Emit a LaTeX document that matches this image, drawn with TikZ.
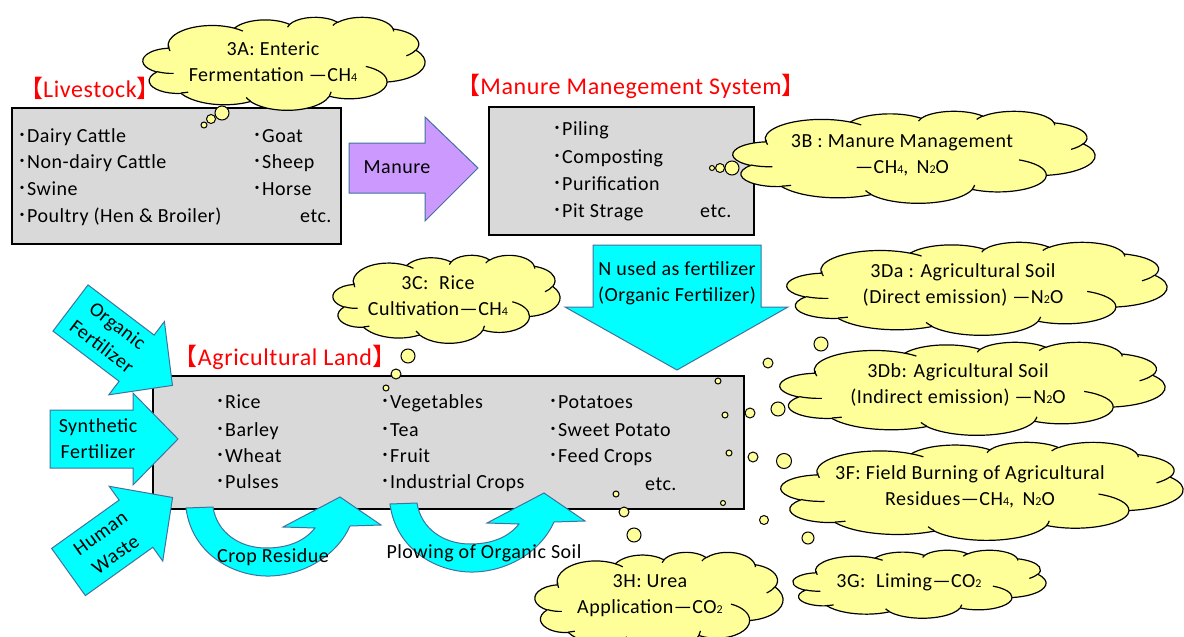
\documentclass[tikz,border=0pt]{standalone}
\usepackage{fontspec}
\setmainfont{Carlito}[LetterSpace=2.5]
\newfontfamily\cjkfont{Noto Sans CJK JP}
\definecolor{boxgray}{HTML}{D9D9D9}
\definecolor{cloudyellow}{HTML}{FFFF99}
\definecolor{arrcyan}{HTML}{00FFFF}
\definecolor{arrpurple}{HTML}{CC99FF}
\definecolor{arredge}{HTML}{41719C}
\definecolor{titlered}{HTML}{FF0000}
\newcommand\lsub[1]{{\fontsize{12}{12}\selectfont #1}}
\newcommand\bul{{\cjkfont ･}}
\newcommand\lbr{{\cjkfont 【}}
\newcommand\rbr{{\cjkfont 】}}
\tikzset{
  declare function={visang(\a,\w,\h)=atan2(sin(\a)*\w, cos(\a)*\h);},
  graybox/.style={draw=black, line width=1.3pt, fill=boxgray, inner sep=0, rectangle},
  titletext/.style={text=titlered, font=\fontsize{24}{30}\selectfont, inner sep=0},
  itemtext/.style={anchor=west, inner sep=0, font=\fontsize{20}{24}\selectfont, text height=14pt, text depth=4pt},
  cloudtext/.style={align=center, inner sep=0, font=\fontsize{20}{26}\selectfont},
  cloudline/.style={draw=black, line width=1.2pt, line join=round},
  bubble/.style={circle, draw=black, line width=1pt, fill=cloudyellow, inner sep=0},
  bigarrow/.style={draw=arredge, line width=1pt},
}
% cloud outline (PowerPoint cloud geometry): left x, top y, width, height
\newcommand\pptcloud[4]{%
  \pgfmathsetmacro\csx{#3/43.2}%
  \pgfmathsetmacro\csy{#4/43.2}%
  \filldraw[cloudline, fill=cloudyellow] ({#1+3.900*\csx},{#2+14.370*\csy})
    \foreach \w/\h/\s/\d in {6.753/9.190/-190.4875/123.7805, 5.333/7.267/-144.1024/89.9452,
       4.365/5.945/-145.8079/99.7230, 4.857/6.595/-130.9861/117.2417,
       5.333/7.273/-78.7089/109.0269, 6.775/9.220/-46.2673/130.2690,
       5.785/7.867/0.6250/114.0333, 6.752/9.215/22.4516/115.1726,
       7.720/10.543/66.2426/75.7110, 4.360/5.918/-274.9421/146.7356,
       4.345/5.945/-246.8285/152.5189}{
      arc[start angle={-visang(\s,\w,\h)}, delta angle={-mod(visang(\s+\d,\w,\h)-visang(\s,\w,\h)+720,360)}, x radius={\w*\csx*1pt}, y radius={\h*\csy*1pt}]
    } -- cycle;
  \foreach \px/\py/\w/\h/\s/\d in {4.693/26.177/4.345/5.945/86.7420/26.4295,
       6.928/34.899/4.360/5.918/73.6105/11.4475,
       16.478/39.090/6.752/9.215/137.6242/14.0811,
       28.827/34.751/6.752/9.215/6.4533/15.9984,
       34.129/22.954/5.785/7.867/-70.2924/70.9174,
       41.798/15.354/5.333/7.273/30.3180/27.7515,
       38.324/5.426/4.857/6.595/-13.7443/14.8589,
       29.078/3.952/4.857/6.595/-149.1815/18.1954,
       22.141/4.720/4.365/5.945/-163.4943/17.6864,
       14.000/5.192/6.753/9.190/-66.7070/12.3194,
       4.127/15.789/6.753/9.190/162.0352/19.5067}{
    \draw[cloudline] ({#1+\px*\csx},{#2+\py*\csy})
      arc[start angle={-visang(\s,\w,\h)}, delta angle={-mod(visang(\s+\d,\w,\h)-visang(\s,\w,\h)+720,360)}, x radius={\w*\csx*1pt}, y radius={\h*\csy*1pt}];
  }%
}
\begin{document}
\begin{tikzpicture}[x=1pt,y=-1pt]
\useasboundingbox (0,0) rectangle (1184,637);
\fill[white] (0,0) rectangle (1184,637);

% ---------- boxes ----------
\node[graybox, minimum width=329pt, minimum height=136pt] (livebox) at (176.5,176) {};
\node[graybox, minimum width=265pt, minimum height=128pt] (manbox) at (621.5,171) {};
\node[graybox, minimum width=591pt, minimum height=133pt] (agribox) at (448.5,442.5) {};

% ---------- titles ----------
\node[titletext] (livetitle) at (90,88) {\lbr Livestock\rbr};
\node[titletext] (mantitle) at (631,86) {\lbr Manure Manegement System\rbr};
\node[titletext] (agrititle) at (285,357) {\lbr Agricultural Land\rbr};

% ---------- livestock items ----------
\node[itemtext] (l1) at (17,137) {\bul Dairy Cattle};
\node[itemtext] (l2) at (17,163) {\bul Non-dairy Cattle};
\node[itemtext] (l3) at (17,190) {\bul Swine};
\node[itemtext] (l4) at (17,217) {\bul Poultry (Hen \& Broiler)};
\node[itemtext] (l5) at (252,137) {\bul Goat};
\node[itemtext] (l6) at (252,163) {\bul Sheep};
\node[itemtext] (l7) at (252,190) {\bul Horse};
\node[itemtext] (l8) at (300,217) {etc.};

% ---------- manure items ----------
\node[itemtext] (m1) at (552,130) {\bul Piling};
\node[itemtext] (m2) at (552,158) {\bul Composting};
\node[itemtext] (m3) at (552,185) {\bul Purification};
\node[itemtext] (m4) at (552,212) {\bul Pit Strage};
\node[itemtext] (m5) at (700,212) {etc.};

% ---------- agricultural items ----------
\node[itemtext] (a1) at (215,403) {\bul Rice};
\node[itemtext] (a2) at (215,431) {\bul Barley};
\node[itemtext] (a3) at (215,457) {\bul Wheat};
\node[itemtext] (a4) at (215,483) {\bul Pulses};
\node[itemtext] (a5) at (380,403) {\bul Vegetables};
\node[itemtext] (a6) at (380,431) {\bul Tea};
\node[itemtext] (a7) at (380,457) {\bul Fruit};
\node[itemtext] (a8) at (380,483) {\bul Industrial Crops};
\node[itemtext] (a9) at (548,403) {\bul Potatoes};
\node[itemtext] (a10) at (548,431) {\bul Sweet Potato};
\node[itemtext] (a11) at (548,457) {\bul Feed Crops};
\node[itemtext] (a12) at (645,485) {etc.};

% ---------- manure arrow ----------
\draw[bigarrow, fill=arrpurple] (349,143) -- (425,143) -- (425,117) -- (478,168) -- (425,221) -- (425,193) -- (349,193) -- cycle;
\node[cloudtext] (manuretxt) at (397,167) {Manure};

% ---------- N arrow ----------
\draw[bigarrow, fill=arrcyan] (593,245) -- (761,245) -- (761,307) -- (788,307) -- (677,370) -- (565,307) -- (593,307) -- cycle;
\node[cloudtext] (ntxt) at (677,283) {N used as fertilizer\\(Organic Fertilizer)};

% ---------- left arrows ----------
\begin{scope}[shift={(70.5,308)}, rotate=-37.2]
\draw[bigarrow, fill=arrcyan] (0,-29) -- (83,-29) -- (83,-46) -- (128,0) -- (83,46) -- (83,29) -- (0,29) -- cycle;
\end{scope}
\begin{scope}[shift={(50,439)}]
\draw[bigarrow, fill=arrcyan] (0,-29) -- (83,-29) -- (83,-46) -- (128,0) -- (83,46) -- (83,29) -- (0,29) -- cycle;
\end{scope}
\begin{scope}[shift={(68.5,572)}, rotate=35.6]
\draw[bigarrow, fill=arrcyan] (0,-29) -- (83,-29) -- (83,-46) -- (128,0) -- (83,46) -- (83,29) -- (0,29) -- cycle;
\end{scope}
\node[cloudtext, rotate=-37.2] (orgtxt) at (110,336) {Organic\\Fertilizer};
\node[cloudtext] (syntxt) at (98,439) {Synthetic\\Fertilizer};
\node[cloudtext, rotate=35.6] (humtxt) at (108,544) {Human\\Waste};

% ---------- curved arrows ----------
\draw[bigarrow, fill=arrcyan] (186,508) .. controls (192,555) and (235,577) .. (270,576) .. controls (305,575) and (337,555) .. (350,526) -- (381,525) -- (340,497) -- (283,527) -- (315,528) .. controls (303,543) and (285,548) .. (266,548) .. controls (240,548) and (217,533) .. (213,507) -- cycle;
\begin{scope}[shift={(204,-4)}]
\draw[bigarrow, fill=arrcyan] (186,508) .. controls (192,555) and (235,577) .. (270,576) .. controls (305,575) and (337,555) .. (350,526) -- (381,525) -- (340,497) -- (283,527) -- (315,528) .. controls (303,543) and (285,548) .. (266,548) .. controls (240,548) and (217,533) .. (213,507) -- cycle;
\end{scope}
\node[cloudtext] (croptxt) at (273,557) {Crop Residue};
\node[cloudtext] (plowtxt) at (484,553) {Plowing of Organic Soil};

% ---------- clouds ----------
\pptcloud{143}{17}{282}{93}
\node[cloudtext] (t3A) at (273,62) {3A: Enteric\\Fermentation —CH\lsub{4}};
\pptcloud{733}{111}{362}{92}
\node[cloudtext] (t3B) at (902,155) {3B : Manure Management\\—CH\lsub{4},\, N\lsub{2}O};
\pptcloud{333}{255}{227}{88}
\node[cloudtext] (t3C) at (438,296) {3C:\; Rice\\Cultivation—CH\lsub{4}};
\pptcloud{787}{242}{380}{93}
\node[cloudtext] (t3Da) at (963,285) {3Da : Agricultural Soil\\(Direct emission) —N\lsub{2}O};
\pptcloud{780}{342}{385}{93}
\node[cloudtext] (t3Db) at (958,385) {3Db: Agricultural Soil\\(Indirect emission) —N\lsub{2}O};
\pptcloud{781}{442}{402}{98}
\node[cloudtext] (t3F) at (970,487) {3F: Field Burning of Agricultural\\Residues—CH\lsub{4},\, N\lsub{2}O};
\pptcloud{793}{550}{253}{68}
\node[cloudtext] (t3G) at (909,582) {3G:\; Liming—CO\lsub{2}};
\pptcloud{535}{552}{248}{98}
\node[cloudtext] (t3H) at (650,596) {3H: Urea\\Application—CO\lsub{2}};

% ---------- thought bubbles ----------
\node[bubble, minimum size=14pt] (bA1) at (222,113) {};
\node[bubble, minimum size=9pt] (bA2) at (211,119) {};
\node[bubble, minimum size=6pt] (bA3) at (204,125) {};
\node[bubble, minimum size=14pt] (bB1) at (732,168) {};
\node[bubble, minimum size=9pt] (bB2) at (720,168) {};
\node[bubble, minimum size=5pt] (bB3) at (712,168) {};
\node[bubble, minimum size=14pt] (bC1) at (408,356) {};
\node[bubble, minimum size=10pt] (bC2) at (396,374) {};
\node[bubble, minimum size=6pt] (bC3) at (386,388) {};
\node[bubble, minimum size=14pt] (bDa1) at (821,344) {};
\node[bubble, minimum size=10pt] (bDa2) at (768,363) {};
\node[bubble, minimum size=6pt] (bDa3) at (718,381) {};
\node[bubble, minimum size=14pt] (bDb1) at (778,409) {};
\node[bubble, minimum size=10pt] (bDb2) at (750,413) {};
\node[bubble, minimum size=6pt] (bDb3) at (725,415) {};
\node[bubble, minimum size=15pt] (bF1) at (784,461) {};
\node[bubble, minimum size=10pt] (bF2) at (753,457) {};
\node[bubble, minimum size=6pt] (bF3) at (729,453) {};
\node[bubble, minimum size=14pt] (bH1) at (634,535) {};
\node[bubble, minimum size=10pt] (bH2) at (624,512) {};
\node[bubble, minimum size=6pt] (bH3) at (616,494) {};
\node[bubble, minimum size=12pt] (bG1) at (808,538) {};
\node[bubble, minimum size=9pt] (bG2) at (764,520) {};
\node[bubble, minimum size=5pt] (bG3) at (723,503) {};
\end{tikzpicture}
\end{document}
